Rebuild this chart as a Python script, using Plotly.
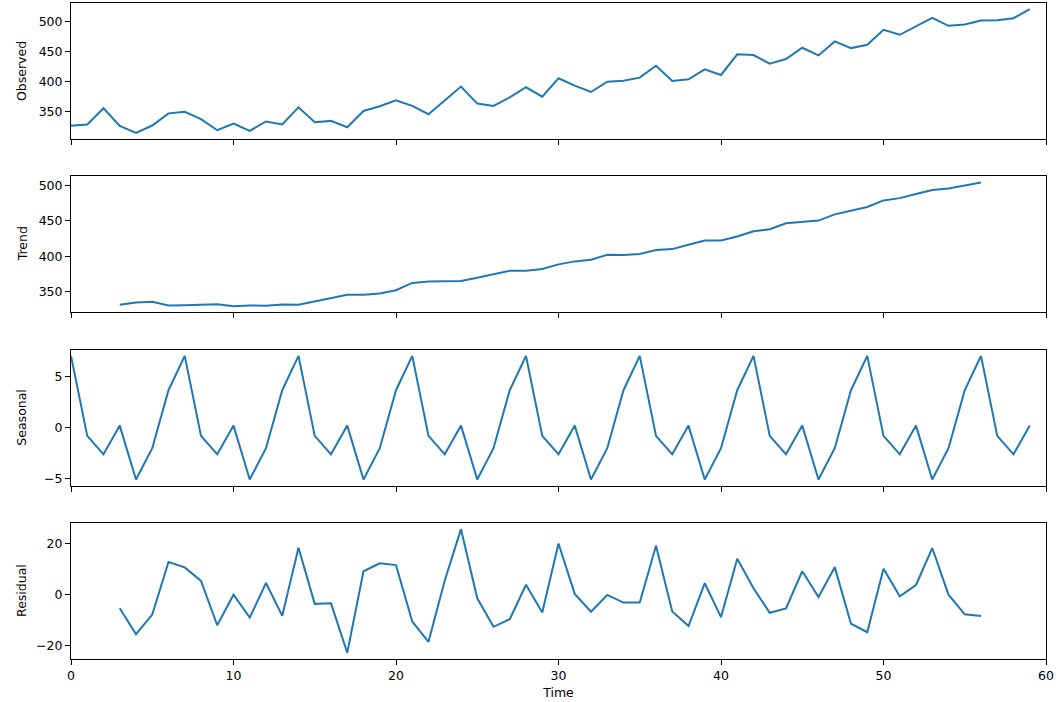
import plotly.graph_objects as go

# ---- data ----
time_full = list(range(60))
observed = [326.3, 328.5, 355.5, 326.0, 314.7, 326.8, 347.0, 349.5, 337.3, 319.0,
            330.0, 318.0, 333.5, 328.5, 357.0, 332.3, 334.5, 324.0, 351.0, 358.8,
            368.8, 359.4, 345.6, 368.2, 391.4, 363.2, 359.4, 373.7, 390.3, 374.8,
            405.2, 393.0, 382.5, 399.6, 401.3, 406.3, 426.1, 400.7, 403.5, 420.0,
            410.7, 444.9, 443.8, 429.4, 437.1, 455.9, 443.2, 466.4, 455.3, 460.9,
            485.7, 477.4, 491.2, 505.5, 492.3, 494.5, 501.1, 501.7, 505.0, 519.9]

time_mid = list(range(3, 57))
trend = [331.8, 335.0, 336.0, 330.8, 331.3, 331.8, 332.7, 329.9, 330.8, 330.4,
         332.2, 331.8, 336.4, 340.2, 345.8, 345.8, 347.7, 352.3, 362.6, 364.5,
         364.5, 365.4, 370.0, 374.8, 379.9, 379.9, 382.4, 388.8, 393.0, 395.3,
         402.3, 401.9, 403.3, 408.9, 410.3, 416.4, 422.4, 422.4, 428.0, 435.5,
         438.3, 446.7, 448.1, 450.5, 459.3, 465.0, 469.6, 479.0, 482.2, 487.9,
         493.5, 495.8, 500.0, 504.2]

seasonal = [7.0, -0.8, -2.6, 0.2, -5.05, -2.0, 3.65,
            7.0, -0.8, -2.6, 0.2, -5.05, -2.0, 3.65,
            7.0, -0.8, -2.6, 0.2, -5.05, -2.0, 3.65,
            7.0, -0.8, -2.6, 0.2, -5.05, -2.0, 3.65,
            7.0, -0.8, -2.6, 0.2, -5.05, -2.0, 3.65,
            7.0, -0.8, -2.6, 0.2, -5.05, -2.0, 3.65,
            7.0, -0.8, -2.6, 0.2, -5.05, -2.0, 3.65,
            7.0, -0.8, -2.6, 0.2, -5.05, -2.0, 3.65,
            7.0, -0.8, -2.6, 0.2]

residual = [-5.2, -15.4, -7.7, 12.9, 10.8, 5.5, -11.9, 0.1, -8.9, 4.7,
            -8.2, 18.5, -3.5, -3.3, -22.7, 9.3, 12.4, 11.7, -10.4, -18.4,
            5.7, 25.8, -1.3, -12.5, -9.5, 4.0, -6.9, 20.2, 0.4, -6.6,
            0.0, -3.0, -3.0, 19.3, -6.5, -12.2, 4.6, -8.7, 14.2, 2.6,
            -7.0, -5.3, 9.3, -0.8, 10.9, -11.3, -14.6, 10.3, -0.5, 3.9,
            18.4, 0.1, -7.6, -8.3]

panel_names = ["Observed", "Trend", "Seasonal", "Residual"]
x_ticks = [0, 10, 20, 30, 40, 50, 60]
y_ticks = [[350, 400, 450, 500], [350, 400, 450, 500], [-5, 0, 5], [-20, 0, 20]]

# ---- figure ----
W, H = 1062, 702
ml, mr, mt, mb = 71, 16, 3, 43
plot_h = H - mt - mb
panel_h = 136
step = 173.33

series = [(time_full, observed), (time_mid, trend), (time_full, seasonal), (time_mid, residual)]
color = "#1f77b4"
font = dict(family="DejaVu Sans", size=12.5, color="#000000")

fig = go.Figure()
layout = dict(
    width=W, height=H,
    margin=dict(l=ml, r=mr, t=mt, b=mb),
    paper_bgcolor="white", plot_bgcolor="white",
    showlegend=False, font=font,
)
annotations = []
for i, (xs, ys) in enumerate(series):
    n = i + 1
    xa = "x" if n == 1 else f"x{n}"
    ya = "y" if n == 1 else f"y{n}"
    fig.add_trace(go.Scatter(x=xs, y=ys, mode="lines", line=dict(color=color, width=2),
                             xaxis=xa, yaxis=ya, hoverinfo="skip"))
    top_px = mt + step * i
    bot_px = top_px + panel_h
    dom = [(H - mb - bot_px) / plot_h, (H - mb - top_px) / plot_h]
    lo, hi = min(ys), max(ys)
    pad = 0.05 * (hi - lo)
    last = (n == 4)
    layout["xaxis" if n == 1 else f"xaxis{n}"] = dict(
        domain=[0, 1], anchor=ya, range=[0, 60], tickvals=x_ticks,
        showticklabels=last, ticks="outside", ticklen=5, tickwidth=1, tickcolor="#000",
        showline=True, linecolor="#000", linewidth=1, mirror=True,
        showgrid=False, zeroline=False, tickfont=font,
        title=dict(text="Time", font=font, standoff=6) if last else None,
    )
    layout["yaxis" if n == 1 else f"yaxis{n}"] = dict(
        domain=dom, anchor=xa, range=[lo - pad, hi + pad], tickvals=y_ticks[i],
        ticks="outside", ticklen=5, tickwidth=1, tickcolor="#000",
        showline=True, linecolor="#000", linewidth=1, mirror=True,
        showgrid=False, zeroline=False, tickfont=font,
    )
    annotations.append(dict(
        text=panel_names[i], textangle=-90, xref="paper", yref="paper",
        x=(22 - ml) / (W - ml - mr), y=(dom[0] + dom[1]) / 2,
        xanchor="center", yanchor="middle", showarrow=False, font=font,
    ))
layout["annotations"] = annotations
fig.update_layout(**layout)
fig.write_html("out.html")
